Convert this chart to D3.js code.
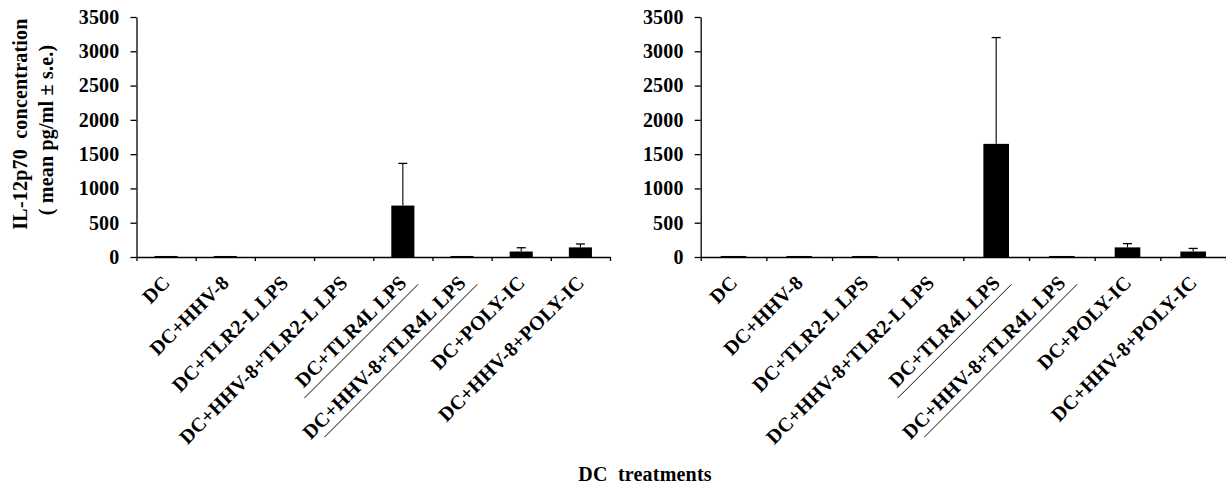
<!DOCTYPE html>
<html>
<head>
<meta charset="utf-8">
<script src="https://cdn.jsdelivr.net/npm/d3@7"></script>
<style>
  html, body { margin: 0; padding: 0; background: #fff; }
  svg text { font-family: "Liberation Serif", "Times New Roman", serif; font-weight: bold; fill: #000; white-space: pre; }
</style>
</head>
<body>
<svg id="chart" width="1226" height="485"></svg>
<script>
const categories = ["DC", "DC+HHV-8", "DC+TLR2-L LPS", "DC+HHV-8+TLR2-L LPS",
  "DC+TLR4L LPS", "DC+HHV-8+TLR4L LPS", "DC+POLY-IC", "DC+HHV-8+POLY-IC"];
const leftValues  = [15, 15, 0, 0, 750, 15, 80, 140];
const leftErrors  = [0, 0, 0, 0, 615, 0, 55, 50];
const rightValues = [15, 15, 15, 0, 1650, 15, 140, 80];
const rightErrors = [0, 0, 0, 0, 1550, 0, 55, 45];
const yTicks = [0, 500, 1000, 1500, 2000, 2500, 3000, 3500];
const underlined = ["DC+TLR4L LPS", "DC+HHV-8+TLR4L LPS"];
const yTitleLines = ["IL-12p70  concentration", "( mean pg/ml \u00B1 s.e.)"];
const xTitle = "DC  treatments";

const svg = d3.select("#chart");
svg.append("rect").attr("width", 1226).attr("height", 485).attr("fill", "#fff");

const FS = 20, LS = 0.2;
const yTop = 17, yBottom = 257;

const panels = [
  { x0: 136.5, x1: 610, values: leftValues, errors: leftErrors },
  { x0: 700.7, x1: 1226, values: rightValues, errors: rightErrors }
];

const y = d3.scaleLinear().domain([0, 3500]).range([yBottom, yTop]);

panels.forEach(p => {
  const g = svg.append("g");
  const xb = d3.scaleBand().domain(categories).range([p.x0, p.x1]).paddingInner(0.61).paddingOuter(0.305);
  const xl = d3.scaleLinear().domain([0, categories.length]).range([p.x0, p.x1]);

  // bars
  g.selectAll("rect.bar").data(categories).enter().append("rect")
    .attr("class", "bar")
    .attr("x", d => xb(d))
    .attr("width", xb.bandwidth())
    .attr("y", (d, i) => y(p.values[i]))
    .attr("height", (d, i) => y(0) - y(p.values[i]))
    .attr("fill", "#000");

  // error bars (upper only)
  const eb = categories.map((c, i) => ({ c, v: p.values[i], e: p.errors[i] })).filter(d => d.e > 0);
  const cx = d => xb(d.c) + xb.bandwidth() / 2;
  g.selectAll("line.err").data(eb).enter().append("line")
    .attr("x1", cx).attr("x2", cx)
    .attr("y1", d => y(d.v)).attr("y2", d => y(d.v + d.e))
    .attr("stroke", "#000").attr("stroke-width", 1.1);
  g.selectAll("line.cap").data(eb).enter().append("line")
    .attr("x1", d => cx(d) - 4.5).attr("x2", d => cx(d) + 4.5)
    .attr("y1", d => y(d.v + d.e)).attr("y2", d => y(d.v + d.e))
    .attr("stroke", "#000").attr("stroke-width", 1.3);

  // y axis
  const ya = g.append("g").attr("transform", `translate(${p.x0},0)`)
    .call(d3.axisLeft(y).tickValues(yTicks).tickSize(6).tickSizeOuter(0).tickPadding(11).tickFormat(d3.format("d")));
  ya.attr("font-family", null).attr("font-size", null);
  ya.selectAll("text").style("font-size", FS + "px").style("letter-spacing", LS + "px")
    .style("font-family", '"Liberation Serif", serif').style("font-weight", "bold").attr("fill", "#000");
  ya.selectAll("line, path").attr("stroke", "#000").attr("stroke-width", 1.3);

  // x axis
  const xa = g.append("g").attr("transform", `translate(0,${yBottom})`)
    .call(d3.axisBottom(xl).tickValues(d3.range(categories.length + 1)).tickSize(4).tickSizeOuter(0).tickFormat(""));
  xa.selectAll("line, path").attr("stroke", "#000").attr("stroke-width", 1.3);

  // category labels
  const lab = g.selectAll("g.lab").data(categories).enter().append("g")
    .attr("class", "lab")
    .attr("transform", d => `translate(${xb(d) + xb.bandwidth() / 2 + 5},${yBottom + 27}) rotate(-45)`);
  lab.append("text")
    .attr("text-anchor", "end")
    .style("font-size", FS + "px").style("letter-spacing", LS + "px")
    .text(d => d);
  lab.filter(d => underlined.includes(d)).each(function(d, i) {
    const t = d3.select(this).select("text").node();
    const len = t.getComputedTextLength();
    d3.select(this).append("line")
      .attr("x1", -len + (i === 0 ? -6 : 12)).attr("x2", 7)
      .attr("y1", 7.5).attr("y2", 7.5)
      .attr("stroke", "#000").attr("stroke-width", 0.9);
  });
});

// y title
const yt = svg.append("g").attr("transform", "translate(0,124)");
yt.selectAll("text").data(yTitleLines).enter().append("text")
  .attr("transform", (d, i) => `translate(${i === 0 ? 27 : 53},${i === 0 ? 0 : 6}) rotate(-90)`)
  .attr("text-anchor", "middle")
  .attr("xml:space", "preserve")
  .style("font-size", FS + "px").style("letter-spacing", LS + "px")
  .text(d => d);

// x title
svg.append("text")
  .attr("x", 645).attr("y", 481)
  .attr("text-anchor", "middle")
  .attr("xml:space", "preserve")
  .style("font-size", FS + "px").style("letter-spacing", LS + "px")
  .text(xTitle);
</script>
</body>
</html>
